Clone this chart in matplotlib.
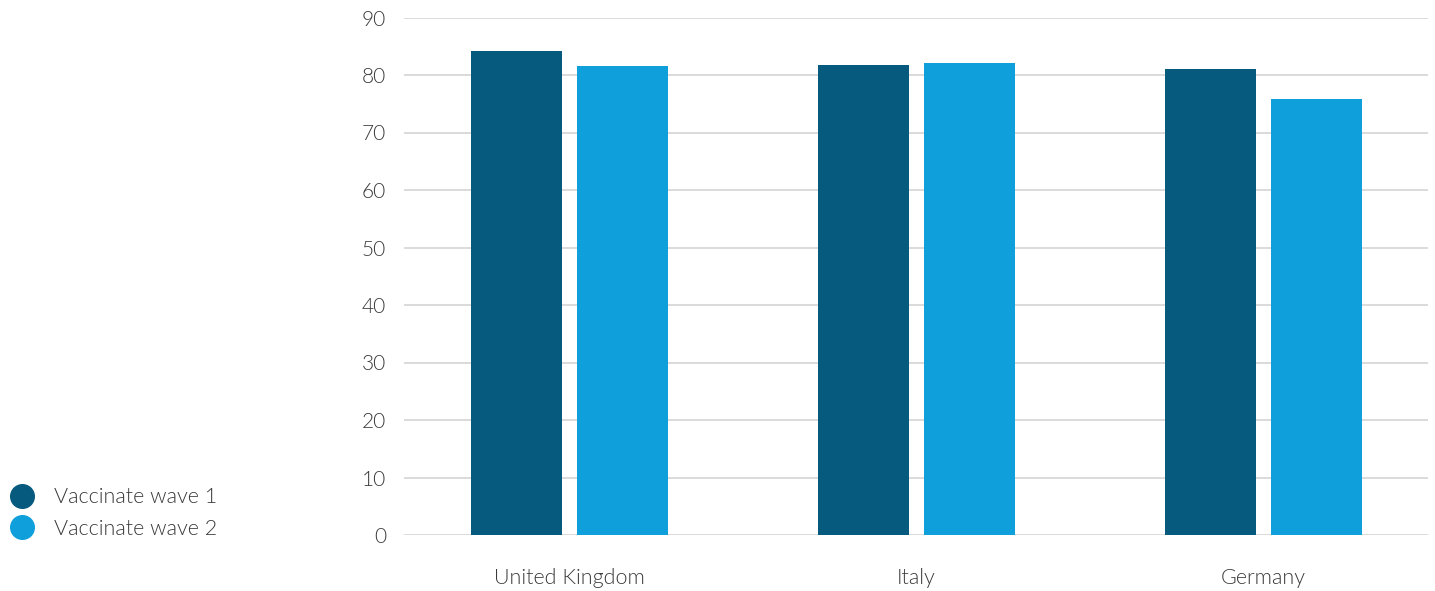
import matplotlib
matplotlib.use("Agg")
import matplotlib.pyplot as plt
from matplotlib.lines import Line2D
import numpy as np

countries = ["United Kingdom", "Italy", "Germany"]
wave1 = [84.1, 81.8, 81.1]
wave2 = [81.5, 82.1, 75.9]
series_names = ["Vaccinate wave 1", "Vaccinate wave 2"]
yticks = [0, 10, 20, 30, 40, 50, 60, 70, 80, 90]

dark = "#065A7E"
light = "#0FA0DC"
text_col = "#3a3a3a"

plt.rcParams["font.family"] = ["Lato", "DejaVu Sans"]
plt.rcParams["font.weight"] = 300

fig = plt.figure(figsize=(14.35, 5.91), dpi=100)
ax = fig.add_axes([404 / 1435, 1 - 535 / 591, (1428 - 404) / 1435, (535 - 17.5) / 591])

x = np.arange(len(countries))
w = 91 / 347
off = 53 / 347
ax.bar(x - off, wave1, width=w, color=dark, zorder=3)
ax.bar(x + off, wave2, width=w, color=light, zorder=3)

ax.set_xlim((404 - 569.5) / 347, (1428 - 569.5) / 347)
ax.set_ylim(0, 90)
ax.set_yticks(yticks)
ax.set_xticks(x)
ax.set_xticklabels(countries)
ax.grid(axis="y", color="#d4d4d4", linewidth=1.2, zorder=0)
for s in ax.spines.values():
    s.set_visible(False)
ax.tick_params(axis="y", length=0, pad=13, labelsize=15, labelcolor=text_col)
ax.tick_params(axis="x", length=0, pad=24, labelsize=15.5, labelcolor=text_col)

handles = [
    Line2D([], [], marker="o", linestyle="none", markersize=17, color=dark),
    Line2D([], [], marker="o", linestyle="none", markersize=17, color=light),
]
leg = fig.legend(handles, series_names, loc="center left",
                 bbox_to_anchor=(0.0, 1 - 513 / 591), frameon=False,
                 handletextpad=0.9, labelspacing=0.55, fontsize=15.5,
                 borderaxespad=0, handlelength=1.2)
for t in leg.get_texts():
    t.set_color(text_col)

fig.savefig("out.png", dpi=100)
